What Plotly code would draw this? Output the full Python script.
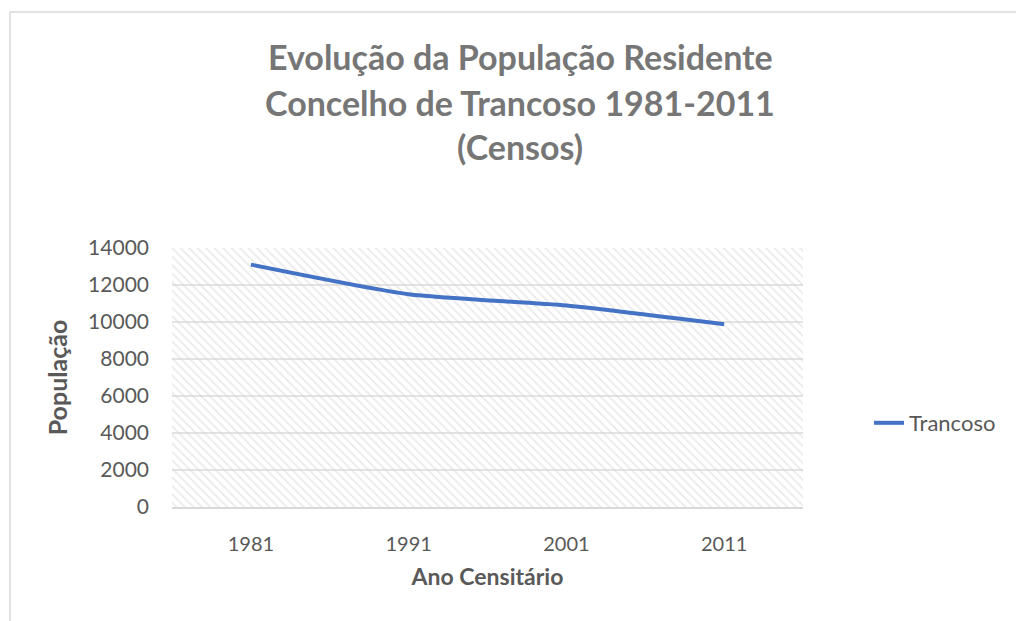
import plotly.graph_objects as go

years = ["1981", "1991", "2001", "2011"]
populacao = [13100, 11500, 10889, 9878]
series_name = "Trancoso"
title_lines = ["Evolução da População Residente", "Concelho de Trancoso 1981-2011", "(Censos)"]
y_ticks = [0, 2000, 4000, 6000, 8000, 10000, 12000, 14000]
y_max = 14000

FONT = "Lato"
fig = go.Figure()

# hatched plot-area background
fig.add_trace(go.Bar(
    x=years, y=[y_max] * len(years), width=1.0,
    marker=dict(color="rgba(0,0,0,0)", line=dict(width=0),
                pattern=dict(shape="\\", fgcolor="#d6d6d6", bgcolor="rgba(0,0,0,0)",
                             size=6, solidity=0.3)),
    showlegend=False, hoverinfo="skip"))

fig.add_trace(go.Scatter(
    x=years, y=populacao, mode="lines", name=series_name,
    line=dict(color="#4472C4", width=4, shape="spline", smoothing=0.6)))

fig.update_layout(
    width=1016, height=621,
    margin=dict(l=172, r=213, t=248, b=114),
    paper_bgcolor="white", plot_bgcolor="white",
    bargap=0,
    font=dict(family=FONT, color="#595959"),
    xaxis=dict(type="category", range=[-0.5, 3.5], showgrid=False,
               showline=True, linecolor="#d9d9d9", linewidth=1.5,
               ticks="", tickfont=dict(size=20, color="#595959"), ticklabelstandoff=18,
               title=dict(text="<b>Ano Censitário</b>", font=dict(size=23, color="#595959"), standoff=15)),
    yaxis=dict(range=[0, y_max], tickvals=y_ticks, tickformat="d", showgrid=True,
               gridcolor="#e3e3e3", gridwidth=1.5,
               zeroline=False, showline=False, ticks="", tickfont=dict(size=21, color="#595959"),
               ticklabelstandoff=22,
               title=dict(text="<b>População</b>", font=dict(size=25, color="#595959"), standoff=13)),
    legend=dict(x=(869 - 172) / 631, y=(507 - 423) / 259, xanchor="left", yanchor="middle",
                font=dict(size=22, color="#595959"), bgcolor="rgba(0,0,0,0)"),
    showlegend=True,
)

title_y_px = [57, 102, 147]
for line, ypx in zip(title_lines, title_y_px):
    fig.add_annotation(text="<b>" + line + "</b>", xref="paper", yref="paper",
                       x=(520 - 172) / 631, y=(507 - ypx) / 259, showarrow=False,
                       xanchor="center", yanchor="middle",
                       font=dict(family=FONT, size=34, color="#767676"))

# chart frame
fig.add_shape(type="rect", xref="paper", yref="paper",
              x0=(10 - 172) / 631, x1=2.0, y0=-1.0, y1=(507 - 12) / 259,
              line=dict(color="#d9d9d9", width=1.5), fillcolor="rgba(0,0,0,0)", layer="below")

fig.write_html("out.html", config={"displayModeBar": False},
               post_script="document.body.style.margin='0';")
